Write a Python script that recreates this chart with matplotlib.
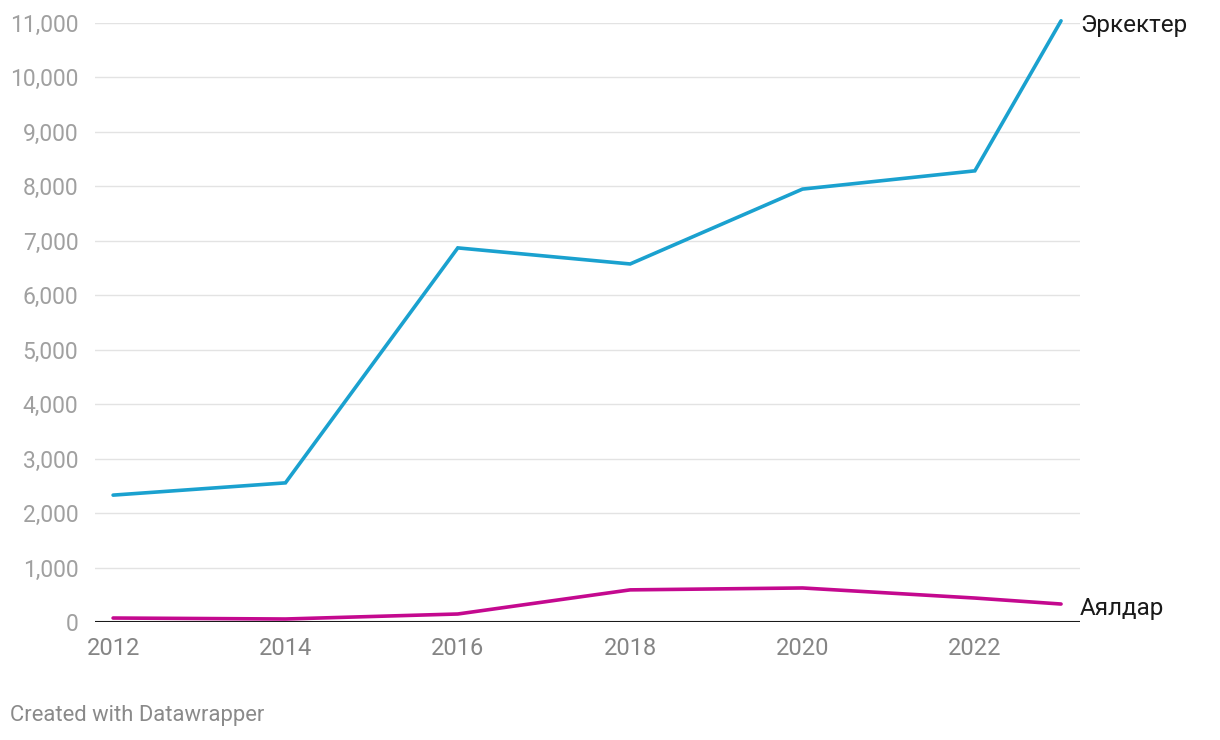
import matplotlib
matplotlib.use("Agg")
import matplotlib.pyplot as plt
from matplotlib.ticker import FuncFormatter

plt.rcParams['font.family'] = ['Roboto', 'DejaVu Sans']

# data
years = [2012, 2014, 2016, 2018, 2020, 2022, 2023]
men = [2330, 2555, 6870, 6575, 7950, 8285, 11040]
women = [73, 55, 147, 590, 625, 440, 330]
series_labels = ['Эркектер', 'Аялдар']
yticks = list(range(0, 11001, 1000))
xticks = [2012, 2014, 2016, 2018, 2020, 2022]

color_men = '#1aa1cf'
color_women = '#c4098f'

fig = plt.figure(figsize=(12.2, 7.4), dpi=100)
ax = fig.add_axes([95 / 1220, 118 / 740, 985 / 1220, 599 / 740])

ax.plot(years, men, color=color_men, linewidth=2.6, solid_capstyle='round',
        solid_joinstyle='miter', clip_on=False, zorder=3)
ax.plot(years, women, color=color_women, linewidth=2.6, solid_capstyle='round',
        solid_joinstyle='miter', clip_on=False, zorder=3)

ax.set_xlim(2011.79, 2023.22)
ax.set_ylim(0, 11000)
ax.set_yticks(yticks)
ax.set_xticks(xticks)
ax.yaxis.set_major_formatter(FuncFormatter(lambda v, p: f'{int(v):,}'))

for s in ax.spines.values():
    s.set_visible(False)
ax.grid(axis='y', color='#e3e3e3', linewidth=1.0, zorder=0)
ax.axhline(0, color='#1a1a1a', linewidth=1.5, zorder=2)

ax.tick_params(axis='both', length=0)
ax.tick_params(axis='y', pad=12, labelsize=16.5, labelcolor='#a0a0a0')
ax.tick_params(axis='x', pad=11, labelsize=17, labelcolor='#858585')

for vals, lab in zip([men, women], series_labels):
    ax.annotate(lab, xy=(years[-1], vals[-1]), xytext=(19, -11),
                textcoords='offset pixels', ha='left', va='baseline',
                fontsize=17.5, color='#1a1a1a', annotation_clip=False)

fig.text(10 / 1220, 1 - 715 / 740, 'Created with Datawrapper', fontsize=15.8,
         color='#8a8a8a', ha='left', va='center')

fig.savefig('out.png', dpi=100)
